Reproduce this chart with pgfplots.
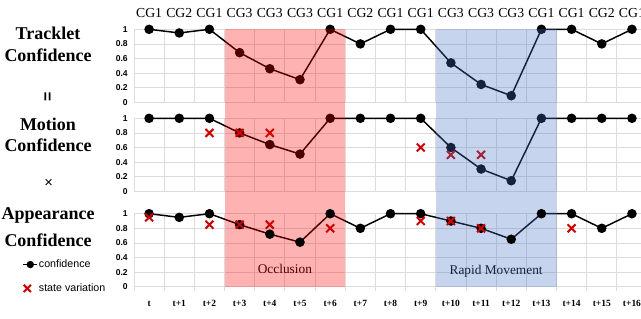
\documentclass[border=0pt]{standalone}
\usepackage{pgfplots}
\pgfplotsset{compat=1.18}
\usepackage{fontspec}
\setmainfont{Liberation Serif}
\setsansfont{Liberation Sans}
\definecolor{gridc}{RGB}{220,220,220}
\definecolor{xred}{RGB}{204,0,0}
\definecolor{ovblue}{RGB}{68,114,196}
\definecolor{ovred}{RGB}{255,0,0}

\pgfplotsset{
  panel/.style={
    scale only axis, width=380.25pt, height=54.75pt,
    xmin=-0.5, xmax=16.3, ymin=0, ymax=1,
    clip=false,
    axis line style={draw=none},
    ytick={0,0.2,0.4,0.6,0.8,1},
    yticklabels={0,0.2,0.4,0.6,0.8,1},
    ymajorgrids, major grid style={draw=gridc, line width=0.6pt},
    xtick={0,...,16},
    minor xtick={-0.5,0.5,...,15.5},
    xminorgrids, minor grid style={draw=gridc, line width=0.6pt},
    major tick length=0pt, minor tick length=0pt,
    yticklabel style={font=\sffamily\bfseries\fontsize{6.4}{7}\selectfont, anchor=east, inner sep=0pt, xshift=-4.5pt},
    anchor=south west,
  },
  conf/.style={black, line width=1.1pt, mark=*, mark size=3pt, mark options={solid, fill=black}},
  sv/.style={only marks, mark=x, mark size=4.2pt, draw=xred, line width=1.5pt, mark options={draw=xred, line width=1.5pt}},
  conflegend/.style={legend image code/.code={\draw[##1, line width=0.9pt, mark size=2.3pt, mark repeat=2, mark phase=2] plot coordinates {(0pt,0pt)(5.25pt,0pt)(10.5pt,0pt)};}},
  svlegend/.style={legend image code/.code={\draw[##1, mark size=3.8pt, line width=1.5pt] plot coordinates {(3pt,0pt)}; \path (0pt,0pt) (9.5pt,0pt);}},
}

\begin{document}
\begin{tikzpicture}
% Tracklet
\begin{axis}[panel, at={(100.5pt,-76.725pt)},
  xticklabel pos=right,
  xticklabels={CG1,CG2,CG1,CG3,CG3,CG3,CG1,CG2,CG1,CG1,CG3,CG3,CG3,CG1,CG1,CG2,CG1},
  xticklabel style={font=\fontsize{10.3}{12}\selectfont, anchor=base, yshift=9pt, inner sep=0pt}]
\addplot[conf] coordinates {(0,1)(1,0.95)(2,1)(3,0.68)(4,0.46)(5,0.31)(6,1)(7,0.8)(8,1)(9,1)(10,0.54)(11,0.245)(12,0.09)(13,1)(14,1)(15,0.8)(16,1)};
\end{axis}
% Motion
\begin{axis}[panel, at={(100.5pt,-143.475pt)}, xticklabels={}]
\addplot[conf] coordinates {(0,1)(1,1)(2,1)(3,0.8)(4,0.64)(5,0.51)(6,1)(7,1)(8,1)(9,1)(10,0.6)(11,0.305)(12,0.145)(13,1)(14,1)(15,1)(16,1)};
\addplot[sv] coordinates {(2,0.8)(3,0.8)(4,0.8)(9,0.6)(10,0.5)(11,0.5)};
\end{axis}
% Appearance
\begin{axis}[panel, at={(100.5pt,-215.025pt)},
  xticklabels={t,t+1,t+2,t+3,t+4,t+5,t+6,t+7,t+8,t+9,t+10,t+11,t+12,t+13,t+14,t+15,t+16},
  xticklabel style={font=\bfseries\fontsize{7.1}{8}\selectfont, anchor=base, yshift=-15pt, inner sep=0pt},
  minor tick length=3pt, tick align=outside, xtick pos=bottom, ytick pos=left,
  minor tick style={draw=gridc, line width=0.6pt},
  legend style={draw=none, fill=none, inner sep=0pt, at={(-0.2209,0.14)}, anchor=west,
    font=\sffamily\fontsize{8}{9}\selectfont, row sep=9pt, cells={anchor=west}, nodes={inner sep=0.8pt}},
  legend cell align=left]
\addplot[conf, conflegend]
  coordinates {(0,1)(1,0.95)(2,1)(3,0.85)(4,0.72)(5,0.61)(6,1)(7,0.8)(8,1)(9,1)(10,0.9)(11,0.8)(12,0.65)(13,1)(14,1)(15,0.8)(16,1)};
\addlegendentry{confidence}
\addplot[sv, svlegend]
  coordinates {(0,0.95)(2,0.85)(3,0.85)(4,0.85)(6,0.8)(9,0.9)(10,0.9)(11,0.8)(14,0.8)};
\addlegendentry{state variation}
\node[font=\fontsize{10}{12}\selectfont] at (axis cs:4.5,0.24) {Occlusion};
\node[font=\fontsize{10}{12}\selectfont] at (axis cs:11.5,0.205) {Rapid Movement};
\fill[ovred, fill opacity=0.3] (axis cs:2.5,0) rectangle (axis cs:6.5,3.526);
\fill[ovblue, fill opacity=0.3] (axis cs:9.5,0) rectangle (axis cs:13.5,3.526);
\end{axis}
% left labels
\begin{scope}[every node/.style={inner sep=0pt, font=\bfseries\fontsize{13.5}{16}\selectfont}]
\node at (36pt,-24.75pt) {Tracklet};
\node at (36pt,-41.25pt) {Confidence};
\node at (36pt,-93pt) {Motion};
\node at (36pt,-108.75pt) {Confidence};
\node at (36pt,-161.25pt) {Appearance};
\node at (36pt,-180pt) {Confidence};
\end{scope}
\node[inner sep=0pt, rotate=90, font=\sffamily\bfseries\fontsize{12}{13}\selectfont] at (36.5pt,-72.75pt) {=};
\node[inner sep=0pt, font=\sffamily\fontsize{11}{12}\selectfont] at (36.5pt,-137.25pt) {×};
\pgfresetboundingbox
\path (0pt,0pt) rectangle (480.75pt,-238.5pt);
\end{tikzpicture}
\end{document}
